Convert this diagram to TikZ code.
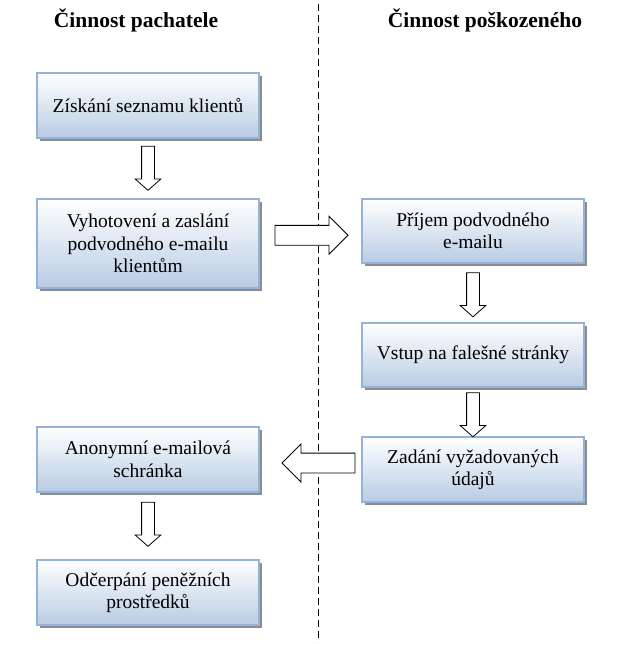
\documentclass[tikz,border=0pt]{standalone}
\usepackage{fontspec}
\setmainfont{Liberation Serif}
\usetikzlibrary{shapes.arrows,shadows,calc}
\definecolor{boxblue}{RGB}{184,204,228}
\definecolor{boxline}{RGB}{149,179,215}
\tikzset{
  stepbox/.style={rectangle, draw=boxline, line width=1.4pt,
    top color=white, bottom color=boxblue,
    minimum width=222pt, align=center,
    font=\fontsize{19.5}{22.4}\selectfont,
    drop shadow={shadow xshift=3pt, shadow yshift=-3pt, fill=black!45, opacity=1}},
  heading/.style={font=\fontsize{21.5}{24}\selectfont\bfseries},
  downarrow/.style={single arrow, draw, fill=white, line width=0.8pt,
    rotate=-90, inner xsep=0pt, inner ysep=6pt, minimum height=44pt,
    single arrow head extend=6.5pt, single arrow tip angle=97},
  sidearrow/.style={single arrow, draw, fill=white, line width=0.8pt,
    inner xsep=0pt, inner ysep=9.5pt, minimum height=73pt,
    single arrow head extend=9pt, single arrow tip angle=90}
}
\begin{document}
\begin{tikzpicture}[x=1pt, y=-1pt]
        \useasboundingbox (0,0) rectangle (622,646);
        % column headings and divider
        \node[heading] (pachatel) at (136,20) {Činnost pachatele};
        \node[heading] (poskozeny) at (485,20) {Činnost poškozeného};
        \coordinate (divtop) at (318,4);
        \coordinate (divbot) at (318,642);
        \draw[dash pattern=on 7pt off 4pt, line width=0.8pt] (divtop) -- (divbot);
        % left column
        \node[stepbox, minimum height=65pt] (ziskani) at (148,105.5) {Získání seznamu klientů};
        \node[stepbox, minimum height=89pt] (vyhotoveni) at (148,243.5) {Vyhotovení a zaslání\\podvodného e-mailu\\klientům};
        \node[stepbox, minimum height=65pt] (schranka) at (148,459.5) {Anonymní e-mailová\\schránka};
        \node[stepbox, minimum height=65pt] (odcerpani) at (148,592.5) {Odčerpání peněžních\\prostředků};
        % right column
        \node[stepbox, minimum height=64pt] (prijem) at (473,231) {Příjem podvodného\\e-mailu};
        \node[stepbox, minimum height=64pt] (vstup) at (473,355) {Vstup na falešné stránky};
        \node[stepbox, minimum height=65pt] (zadani) at (473,469.5) {Zadání vyžadovaných\\údajů};
        % block arrows
        \node[downarrow] (a1) at ($(ziskani.south)!0.5!(vyhotoveni.north)+(0,-3)$) {};
        \node[sidearrow] (a2) at ($(vyhotoveni.east)!0.5!(prijem.west)+(-4,-2)$) {};
        \node[downarrow] (a3) at ($(prijem.south)!0.5!(vstup.north)+(0,-1)$) {};
        \node[downarrow] (a4) at ($(vstup.south)!0.5!(zadani.north)+(0,0)$) {};
        \node[sidearrow, rotate=180] (a5) at ($(zadani.west)!0.5!(schranka.east)+(13,-1.5)$) {};
        \node[downarrow] (a6) at ($(schranka.south)!0.5!(odcerpani.north)+(0,-4.5)$) {};
    \end{tikzpicture}
\end{document}
